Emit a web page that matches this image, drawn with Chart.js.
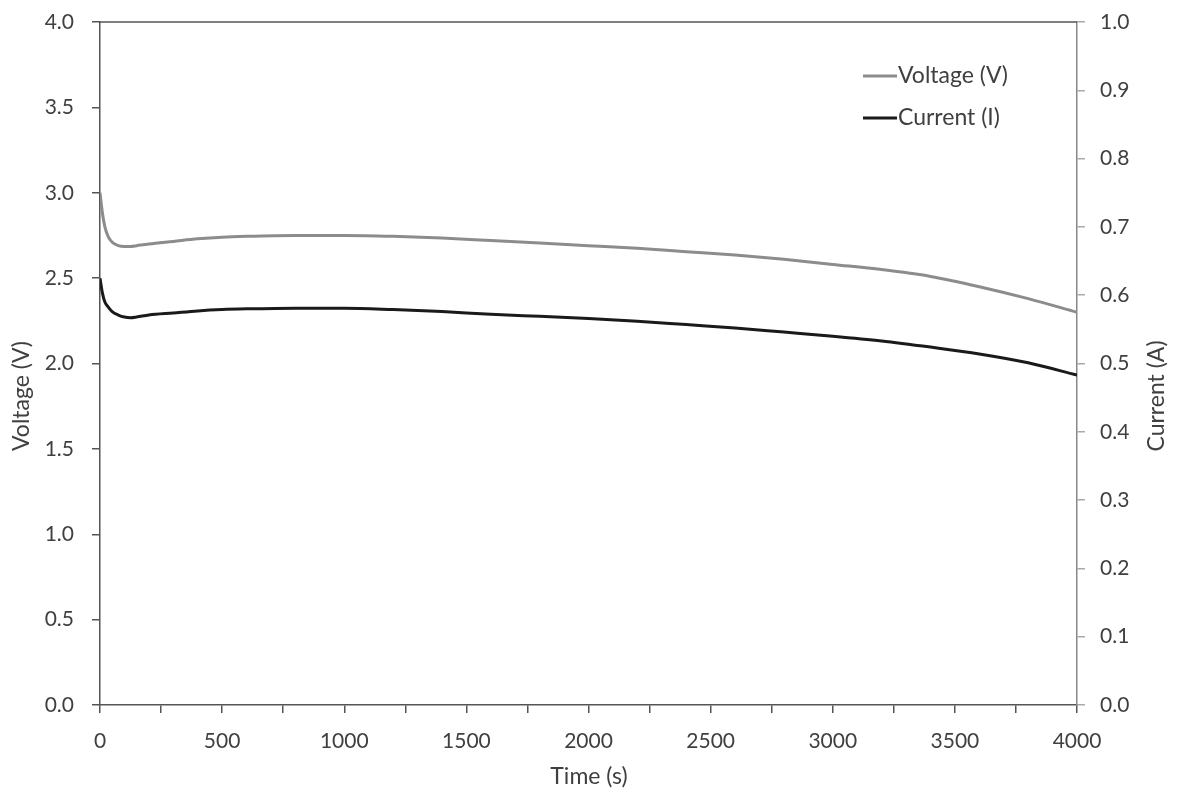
<!DOCTYPE html>
<html>
<head>
<meta charset="utf-8">
<script src="https://cdn.jsdelivr.net/npm/chart.js@4/dist/chart.umd.min.js"></script>
<style>
  html, body { margin: 0; padding: 0; background: #fff; }
  #wrap { width: 1177px; height: 794px; }
</style>
</head>
<body>
<div id="wrap"><canvas id="chart"></canvas></div>
<script>
var timeS    = [0, 10, 20, 33, 50, 75, 100, 125, 150, 200, 300, 400, 500, 600, 800, 1000, 1200, 1400, 1600, 1800, 2000, 2200, 2400, 2600, 2800, 3000, 3200, 3400, 3600, 3800, 4000];
var voltageV = [3.00, 2.88, 2.80, 2.745, 2.71, 2.69, 2.685, 2.685, 2.69, 2.70, 2.715, 2.73, 2.74, 2.745, 2.75, 2.75, 2.745, 2.735, 2.72, 2.705, 2.69, 2.675, 2.655, 2.635, 2.61, 2.58, 2.55, 2.51, 2.45, 2.38, 2.30];
var currentA = [0.625, 0.603, 0.59, 0.583, 0.576, 0.571, 0.568, 0.567, 0.568, 0.571, 0.574, 0.577, 0.579, 0.58, 0.581, 0.581, 0.579, 0.576, 0.572, 0.569, 0.566, 0.562, 0.557, 0.552, 0.546, 0.540, 0.533, 0.524, 0.514, 0.501, 0.483];
var axisTitles = ["Time (s)", "Voltage (V)", "Current (A)"];

var textColor = "#404040";
var fontFam = "Lato, 'Open Sans', sans-serif";

function pts(ys) {
    return timeS.map(function(t, i) { return { x: t, y: ys[i] }; });
}

// top border, axis titles and legend drawn by hand
var boxPlugin = {
    id: "boxLegend",
    afterDraw: function(chart) {
        var ctx = chart.ctx, a = chart.chartArea;
        ctx.save();
        ctx.strokeStyle = "#555";
        ctx.lineWidth = 1.5;
        ctx.beginPath();
        ctx.moveTo(a.left, a.top);
        ctx.lineTo(a.right, a.top);
        ctx.stroke();

        ctx.fillStyle = textColor;
        ctx.font = "23px " + fontFam;
        ctx.textAlign = "center";
        ctx.textBaseline = "middle";
        ctx.fillText(axisTitles[0], 589, 777);
        [[22, axisTitles[1]], [1157, axisTitles[2]]].forEach(function(t) {
            ctx.save();
            ctx.translate(t[0], 396);
            ctx.rotate(-Math.PI / 2);
            ctx.fillText(t[1], 0, 0);
            ctx.restore();
        });

        var rows = [76, 118];
        ctx.font = "23px " + fontFam;
        ctx.textAlign = "left";
        chart.data.datasets.forEach(function(ds, i) {
            ctx.strokeStyle = ds.borderColor;
            ctx.lineWidth = 3;
            ctx.beginPath();
            ctx.moveTo(863, rows[i]);
            ctx.lineTo(897, rows[i]);
            ctx.stroke();
            ctx.fillStyle = textColor;
            ctx.fillText(ds.label, 898, rows[i]);
        });
        ctx.restore();
    }
};

function noPad(s) {
    s.paddingTop = 0; s.paddingBottom = 0; s.paddingLeft = 0; s.paddingRight = 0;
}

new Chart(document.getElementById("chart"), {
    type: "line",
    data: {
        datasets: [{
            label: "Voltage (V)",
            data: pts(voltageV),
            borderColor: "#8c8c8c",
            borderWidth: 3,
            pointRadius: 0,
            cubicInterpolationMode: "monotone",
            yAxisID: "yV"
        }, {
            label: "Current (I)",
            data: pts(currentA),
            borderColor: "#1a1a1a",
            borderWidth: 3,
            pointRadius: 0,
            cubicInterpolationMode: "monotone",
            yAxisID: "yA"
        }]
    },
    options: {
        responsive: true,
        maintainAspectRatio: false,
        animation: false,
        layout: { padding: { top: 22, left: 0, right: 0, bottom: 0 } },
        plugins: { legend: { display: false }, tooltip: { enabled: false } },
        scales: {
            x: {
                type: "linear",
                min: 0, max: 4000,
                afterFit: function(s) { s.height = 89; noPad(s); },
                ticks: {
                    stepSize: 250, autoSkip: false, maxRotation: 0,
                    padding: 16, color: textColor,
                    font: { family: fontFam, size: 21 },
                    callback: function(v) { return v % 500 === 0 ? v : ""; }
                },
                grid: { drawOnChartArea: false, drawTicks: true, tickLength: 8, color: "#555", lineWidth: 1.5 },
                border: { color: "#555", width: 1.5 }
            },
            yV: {
                position: "left",
                min: 0, max: 4,
                afterFit: function(s) { s.width = 100; noPad(s); },
                ticks: {
                    stepSize: 0.5, padding: 18, color: textColor,
                    font: { family: fontFam, size: 21 },
                    callback: function(v) { return v.toFixed(1); }
                },
                grid: { drawOnChartArea: false, drawTicks: true, tickLength: 8, color: "#555", lineWidth: 1.5 },
                border: { color: "#555", width: 1.5 }
            },
            yA: {
                position: "right",
                min: 0, max: 1,
                afterFit: function(s) { s.width = 100; noPad(s); },
                ticks: {
                    stepSize: 0.1, padding: 15, color: textColor,
                    font: { family: fontFam, size: 21 },
                    callback: function(v) { return v.toFixed(1); }
                },
                grid: { drawOnChartArea: false, drawTicks: true, tickLength: 8, color: "#aaa", lineWidth: 1.5 },
                border: { color: "#888", width: 1.5 }
            }
        }
    },
    plugins: [boxPlugin]
});
</script>
</body>
</html>
